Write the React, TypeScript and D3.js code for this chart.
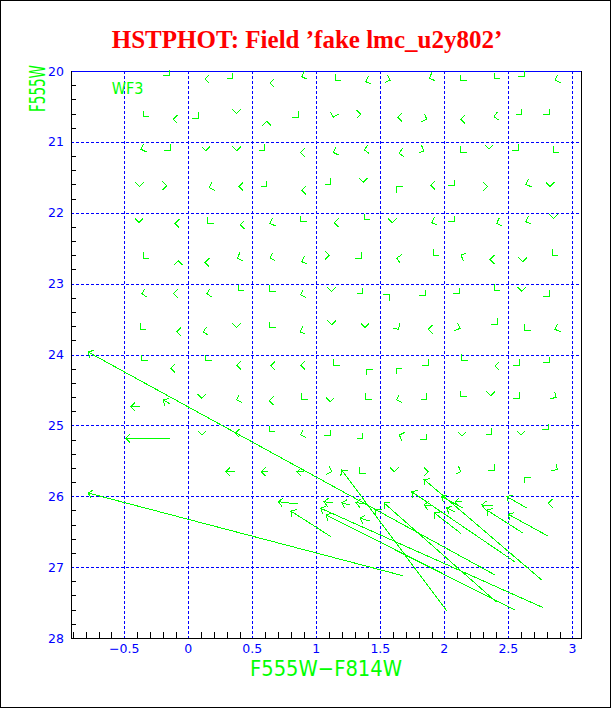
import React from "react";
import * as d3 from "d3";

const W = 612;
const H = 709;

const titleText = "HSTPHOT: Field \u2019fake lmc_u2y802\u2019";
const xLabel = "F555W\u2212F814W";
const yLabel = "F555W";
const chipLabel = "WF3";

const xTicks = [-0.5, 0, 0.5, 1, 1.5, 2, 2.5, 3];
const xTickLabels = ["\u22120.5", "0", "0.5", "1", "1.5", "2", "2.5", "3"];
const yTicks = [20, 21, 22, 23, 24, 25, 26, 27, 28];
const yTickLabels = ["20", "21", "22", "23", "24", "25", "26", "27", "28"];

// tiny vectors drawn as bare arrowheads: [colour, magnitude, direction deg (0 = right, 90 = up)]
const smallHeads: [number, number, number][] = [
  [-0.148, 20.07, 315], [0.13, 20.11, 180], [0.347, 20.11, 315], [0.638, 20.17, 180], [0.886, 20.08, 200], [1.146, 20.13, 225], [1.386, 20.15, 200], [1.576, 20.13, 340], [1.883, 20.1, 200], [2.13, 20.14, 225], [2.391, 20.11, 225], [2.623, 20.08, 315], [2.865, 20.13, 200],
  [-0.352, 20.645, 225], [-0.117, 20.68, 180], [0.078, 20.67, 315], [0.378, 20.6, 270], [0.613, 20.71, 90], [0.859, 20.65, 315], [1.133, 20.65, 255], [1.347, 20.61, 0], [1.636, 20.65, 180], [1.863, 20.68, 340], [2.128, 20.68, 180], [2.388, 20.645, 190], [2.605, 20.62, 315], [2.82, 20.62, 315],
  [-0.37, 21.105, 200], [-0.143, 21.115, 315], [0.138, 21.125, 270], [0.378, 21.125, 270], [0.599, 21.115, 315], [0.878, 21.15, 180], [1.133, 21.15, 200], [1.375, 21.115, 190], [1.646, 21.16, 190], [1.841, 21.125, 340], [2.13, 21.147, 225], [2.349, 21.1, 270], [2.578, 21.115, 315], [2.852, 21.147, 225],
  [-0.383, 21.63, 270], [-0.169, 21.62, 0], [0.164, 21.647, 200], [0.396, 21.63, 180], [0.613, 21.63, 315], [0.886, 21.68, 180], [1.113, 21.6, 315], [1.367, 21.57, 270], [1.628, 21.63, 135], [1.894, 21.61, 180], [2.076, 21.62, 315], [2.339, 21.63, 0], [2.638, 21.6, 200], [2.826, 21.63, 270],
  [-0.385, 22.14, 270], [-0.104, 22.15, 180], [0.152, 22.15, 225], [0.406, 22.17, 180], [0.638, 22.15, 200], [0.878, 22.125, 225], [1.141, 22.14, 180], [1.375, 22.1, 225], [1.594, 22.14, 270], [1.902, 22.14, 200], [2.078, 22.125, 315], [2.409, 22.15, 200], [2.636, 22.125, 200], [2.852, 22.08, 270],
  [-0.352, 22.64, 225], [-0.078, 22.68, 90], [0.13, 22.7, 180], [0.383, 22.64, 200], [0.638, 22.64, 200], [0.886, 22.69, 200], [1.102, 22.6, 0], [1.349, 22.64, 315], [1.628, 22.64, 170], [1.914, 22.6, 225], [2.13, 22.6, 160], [2.357, 22.66, 180], [2.613, 22.69, 270], [2.844, 22.6, 225],
  [-0.364, 23.14, 190], [-0.117, 23.14, 180], [0.144, 23.14, 190], [0.391, 23.1, 225], [0.638, 23.11, 225], [0.878, 23.16, 200], [1.12, 23.11, 270], [1.363, 23.14, 315], [1.57, 23.16, 45], [1.849, 23.17, 315], [2.117, 23.14, 315], [2.391, 23.09, 225], [2.605, 23.11, 270], [2.82, 23.18, 315],
  [-0.377, 23.645, 225], [-0.091, 23.68, 180], [0.117, 23.68, 190], [0.378, 23.62, 270], [0.638, 23.62, 225], [0.873, 23.68, 200], [1.12, 23.58, 270], [1.38, 23.62, 270], [1.641, 23.645, 300], [1.875, 23.645, 180], [2.123, 23.63, 340], [2.414, 23.57, 315], [2.63, 23.66, 225], [2.865, 23.645, 200],
  [-0.364, 24.09, 225], [-0.1375, 24.195, 180], [0.138, 24.09, 225], [0.378, 24.15, 180], [0.644, 24.16, 180], [0.878, 24.15, 180], [1.138, 24.15, 225], [1.394, 24.205, 135], [1.623, 24.195, 135], [1.875, 24.15, 315], [2.136, 24.08, 225], [2.396, 24.16, 180], [2.586, 24.15, 315], [2.82, 24.115, 315],
  [0.105, 24.618, 270], [0.378, 24.642, 200], [0.633, 24.652, 180], [0.886, 24.628, 225], [1.107, 24.666, 270], [1.386, 24.632, 225], [1.628, 24.642, 200], [1.863, 24.628, 315], [2.128, 24.595, 225], [2.363, 24.581, 270], [2.586, 24.618, 315], [2.873, 24.604, 330],
  [0.105, 25.136, 270], [0.365, 25.112, 180], [0.633, 25.089, 225], [0.878, 25.136, 200], [1.107, 25.146, 315], [1.363, 25.192, 315], [1.648, 25.136, 160], [1.857, 25.206, 315], [2.136, 25.15, 270], [2.37, 25.122, 315], [2.597, 25.136, 270], [2.813, 25.065, 315],
  [1.12, 25.654, 340], [1.341, 25.676, 225], [1.609, 25.654, 270], [1.875, 25.654, 0], [2.13, 25.654, 340], [2.391, 25.63, 315], [2.63, 25.733, 135], [2.883, 25.62, 330],
  [1.466, 26.18, 135], [2.8125, 26.1, 180],
];

// short vectors: [tail colour, tail mag, head colour, head mag]
const shortVectors: [number, number, number, number][] = [
  [-0.377, 24.737, -0.45, 24.737],
  [-0.143, 24.698, -0.195, 24.642],
  [-0.143, 25.182, -0.489, 25.182],
  [0.365, 25.654, 0.292, 25.654],
  [0.623, 25.654, 0.57, 25.654],
  [0.904, 25.658, 0.849, 25.654],
  [0.855, 26.109, 0.703, 26.077],
  [1.13, 26.095, 1.06, 26.077],
  [1.263, 26.124, 1.198, 26.091],
  [1.396, 26.109, 1.31, 26.091],
  [1.904, 26.137, 1.841, 26.123],
  [2.146, 26.166, 1.98, 26.006],
  [2.138, 26.081, 2.084, 26.077],
  [2.38, 26.137, 2.292, 26.123],
  [2.084, 26.221, 2.019, 26.165],
  [1.42, 26.349, 1.341, 26.311],
];

// long vectors: [tail colour, tail mag, head colour, head mag]
const longVectors: [number, number, number, number][] = [
  [2.396, 27.111, -0.783, 23.965],
  [1.675, 27.121, -0.783, 25.954],
  [1.115, 26.571, 0.8, 26.208],
  [2.805, 26.557, 2.5, 26.255],
  [2.617, 26.523, 2.331, 26.194],
  [2.128, 26.523, 1.92, 26.232],
  [2.648, 26.17, 2.488, 26.006],
  [2.761, 27.182, 1.841, 25.761],
  [2.773, 27.573, 1.034, 26.17],
  [2.019, 27.619, 1.198, 25.63],
  [2.409, 27.496, 1.529, 26.095],
  [2.552, 27.605, 1.076, 26.265],
  [2.553, 26.928, 1.745, 25.936],
];

const GREEN = "#00ff00";
const BLUE = "#0000ff";
const RED = "#ff0000";
const LABEL_FONT = "'DejaVu Sans', 'Liberation Sans', sans-serif";

const left = 71.3;
const right = 581.7;
const top = 71;
const bottom = 638;

const x = d3.scaleLinear().domain([-0.914, 3.073]).range([left, right]);
const y = d3.scaleLinear().domain([20, 28]).range([top, bottom]);

const HEAD = 6;

function headPath(tx: number, ty: number, ux: number, uy: number): string {
  const bx = -ux;
  const by = -uy;
  const pts: [number, number][] = [Math.PI / 4, -Math.PI / 4].map((t) => {
    const c = Math.cos(t);
    const s = Math.sin(t);
    return [tx + HEAD * (bx * c - by * s), ty + HEAD * (bx * s + by * c)];
  });
  const p = d3.path();
  p.moveTo(pts[0][0], pts[0][1]);
  p.lineTo(tx, ty);
  p.lineTo(pts[1][0], pts[1][1]);
  return p.toString();
}

function vectorPath(v: [number, number, number, number]): string {
  const x0 = x(v[0]);
  const y0 = y(v[1]);
  const x1 = x(v[2]);
  const y1 = y(v[3]);
  const len = Math.hypot(x1 - x0, y1 - y0) || 1;
  const p = d3.path();
  p.moveTo(x0, y0);
  p.lineTo(x1, y1);
  return p.toString() + headPath(x1, y1, (x1 - x0) / len, (y1 - y0) / len);
}

export default function App() {
  const xMinor = d3.range(-0.9, 3.05, 0.1).filter((v) => Math.abs(v * 2 - Math.round(v * 2)) > 0.01);
  const yMinor = d3.range(20.2, 28, 0.2).filter((v) => Math.abs(v - Math.round(v)) > 0.01);

  return (
    <div style={{ position: "absolute", left: 0, top: 0 }}>
      <svg width={W} height={H} style={{ display: "block", background: "#fff" }}>
        <rect x={0.5} y={0.5} width={W - 2} height={H - 2} fill="#fff" stroke="#000" strokeWidth={1} />
        <text x={307} y={48} textAnchor="middle" fill={RED} fontFamily="'Liberation Serif', 'Times New Roman', serif" fontWeight="bold" fontSize={25}>
          {titleText}
        </text>

        <g shapeRendering="crispEdges" stroke={BLUE} strokeWidth={1} strokeDasharray="3,2" fill="none">
          {xTicks.map((t) => (
            <line key={"gx" + t} x1={Math.round(x(t)) + 0.5} x2={Math.round(x(t)) + 0.5} y1={top} y2={bottom} />
          ))}
          {yTicks.slice(1, -1).map((t) => (
            <line key={"gy" + t} x1={left} x2={right} y1={Math.round(y(t)) + 0.5} y2={Math.round(y(t)) + 0.5} />
          ))}
        </g>

        <g shapeRendering="crispEdges" strokeWidth={1} fill="none">
          <line x1={left} x2={right} y1={top + 0.5} y2={top + 0.5} stroke={BLUE} />
          <line x1={right} x2={right} y1={top} y2={bottom} stroke="#000" />
          <line x1={left} x2={left} y1={top} y2={bottom + 0.5} stroke="#000" />
          <line x1={left} x2={right} y1={bottom + 0.5} y2={bottom + 0.5} stroke="#000" />
          {xMinor.map((t) => (
            <line key={"mx" + t} x1={Math.round(x(t)) + 0.5} x2={Math.round(x(t)) + 0.5} y1={bottom} y2={bottom - 6} stroke="#000" />
          ))}
          {yMinor.map((t) => (
            <line key={"my" + t} x1={left} x2={left + 5} y1={Math.round(y(t)) + 0.5} y2={Math.round(y(t)) + 0.5} stroke="#000" />
          ))}
        </g>

        <g fill={BLUE} fontFamily={LABEL_FONT} fontSize={12.5}>
          {xTicks.map((t, i) => (
            <text key={"tx" + t} x={x(t)} y={653} textAnchor="middle">
              {xTickLabels[i]}
            </text>
          ))}
          {yTicks.map((t, i) => (
            <text key={"ty" + t} x={64} y={y(t) + 4.5} textAnchor="end">
              {yTickLabels[i]}
            </text>
          ))}
        </g>

        <g fill={GREEN} fontFamily={LABEL_FONT}>
          <text x={326} y={676} textAnchor="middle" fontSize={21} textLength={152} lengthAdjust="spacingAndGlyphs">
            {xLabel}
          </text>
          <text transform="translate(45,88.5) rotate(-90)" textAnchor="middle" fontSize={21} textLength={47} lengthAdjust="spacingAndGlyphs">
            {yLabel}
          </text>
          <text x={111.7} y={94} fontSize={16} textLength={31.6} lengthAdjust="spacingAndGlyphs">
            {chipLabel}
          </text>
        </g>

        <g stroke={GREEN} strokeWidth={1} fill="none" shapeRendering="crispEdges">
          {smallHeads.map((d, i) => {
            const a = (d[2] * Math.PI) / 180;
            return <path key={"h" + i} d={headPath(x(d[0]), y(d[1]), Math.cos(a), -Math.sin(a))} />;
          })}
          {shortVectors.map((v, i) => (
            <path key={"s" + i} d={vectorPath(v)} />
          ))}
          {longVectors.map((v, i) => (
            <path key={"l" + i} d={vectorPath(v)} />
          ))}
        </g>
      </svg>
    </div>
  );
}
